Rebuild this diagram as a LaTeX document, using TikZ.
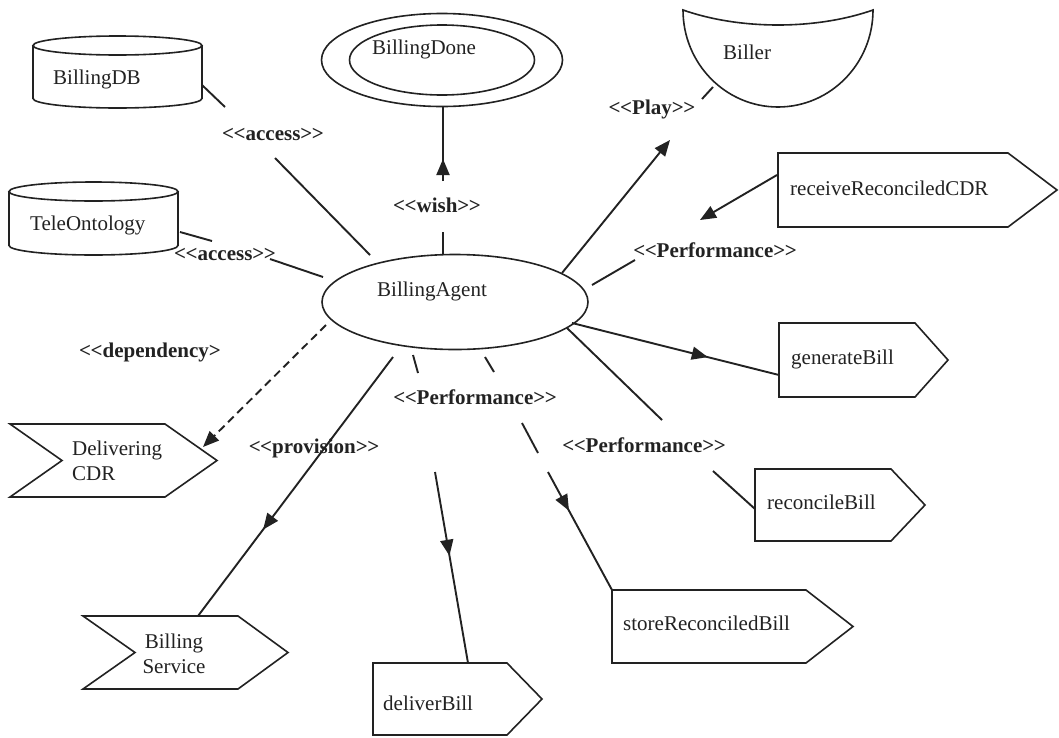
\documentclass[tikz,border=0pt]{standalone}
\usepackage{fontspec}
\setmainfont{Liberation Serif}
\usetikzlibrary{shapes.geometric, arrows.meta, decorations.markings}

\definecolor{ink}{RGB}{34,34,34}

% stereotype brackets, kept apart so no ligature forms
\newcommand\stereo[1]{<\kern-0.5pt<#1>\kern-0.5pt>}

% database drum: x1, y1 (top), x2, y2 (bottom), cap radius
\newcommand\drumshape[5]{%
  \draw[outline] (#1,#2+#5) -- (#1,#4-#5)
    arc[start angle=180, end angle=0, x radius={(#3-#1)/2}, y radius=#5]
    -- (#3,#2+#5);
  \draw[outline] ({(#1+#3)/2},#2+#5) ellipse[x radius={(#3-#1)/2}, y radius=#5];
}
% action box pointing right: x1, y1, x2 (end of flat part), y2, x of tip
\newcommand\pentshape[5]{%
  \draw[outline] (#1,#2) -- (#3,#2) -- (#5,{(#2+#4)/2}) -- (#3,#4) -- (#1,#4) -- cycle;
}
% event chevron: as above, plus x of the notch on the left
\newcommand\chevshape[6]{%
  \draw[outline] (#1,#2) -- (#3,#2) -- (#5,{(#2+#4)/2}) -- (#3,#4) -- (#1,#4)
    -- (#6,{(#2+#4)/2}) -- cycle;
}

\tikzset{
  outline/.style={draw=ink, line width=1.6pt, line join=miter},
  conn/.style={color=ink, line width=1.9pt},
  arrowend/.style={-{Triangle[length=16pt,width=13pt]}},
  midtip/.style={postaction={decorate, decoration={markings,
      mark=at position #1 with {\arrow{Triangle[length=16pt,width=13pt]}}}}},
  txt/.style={font=\fontsize{21}{25}\selectfont, text=ink, inner sep=0pt},
  stlab/.style={font=\bfseries\fontsize{21}{25}\selectfont, text=ink, inner sep=0pt, anchor=base},
}

\begin{document}
\begin{tikzpicture}[x=1pt, y=-1pt]
\useasboundingbox[fill=white] (0,0) rectangle (1059,737);

% ---------------- resources
\drumshape{33}{36}{202}{108}{9.5}
\node[txt, anchor=base west] (db) at (53,84) {BillingDB};
\drumshape{9}{182}{178}{255}{9.5}
\node[txt, anchor=base west] (onto) at (30,230) {TeleOntology};

% ---------------- agent
\node[outline, ellipse, minimum width=266, minimum height=95, inner sep=0pt] (agent) at (455,302) {};
\node[txt, anchor=base west] (agent-name) at (377,296) {BillingAgent};

% ---------------- goal
\node[outline, ellipse, minimum width=241, minimum height=93, inner sep=0pt] (done) at (442,60) {};
\node[outline, ellipse, minimum width=185, minimum height=70, inner sep=0pt] (done-in) at (442,60) {};
\node[txt, anchor=base west] (done-name) at (372,54) {BillingDone};

% ---------------- role
\draw[outline] (683,10) .. controls (740,30) and (816,30) .. (873,10)
  arc[start angle=0, end angle=180, x radius=95, y radius=97] -- cycle;
\node[txt, anchor=base west] (biller) at (723,59) {Biller};

% ---------------- actions
\pentshape{778}{153}{1008}{227}{1057}
\node[txt, anchor=base west] (rcv) at (790,195) {receiveReconciledCDR};
\pentshape{779}{323}{915}{397}{948}
\node[txt, anchor=base west] (gen) at (791,364) {generateBill};
\pentshape{755}{469}{891}{541}{925}
\node[txt, anchor=base west] (rec) at (767,509) {reconcileBill};
\pentshape{612}{590}{806}{663}{853}
\node[txt, anchor=base west] (store) at (623,630) {storeReconciledBill};
\pentshape{373}{663}{507}{735}{542}
\node[txt, anchor=base west] (deliver) at (383,710) {deliverBill};

% ---------------- events / services
\chevshape{10}{424}{165}{497}{217}{62}
\node[txt, anchor=north west, align=left] (dcdr) at (72,441) {Delivering\\CDR};
\chevshape{83}{616}{238}{689}{288}{135}
\node[txt, anchor=north, align=center] (bserv) at (174,634) {Billing\\Service};

% ---------------- connector end points and breaks
\coordinate (db-a)   at (202,85);  \coordinate (db-b)   at (225,107);
\coordinate (db-c)   at (275,158); \coordinate (ag-db)  at (370,255);
\coordinate (on-a)   at (180,232); \coordinate (on-b)   at (212,241);
\coordinate (on-c)   at (270,259); \coordinate (ag-on)  at (323,277);
\coordinate (ag-w)   at (443,255); \coordinate (w-b)    at (443,232);
\coordinate (w-c)    at (443,181); \coordinate (dn-w)   at (443,107);
\coordinate (ag-p)   at (562,273); \coordinate (p-b)    at (670,140);
\coordinate (p-c)    at (702,99);  \coordinate (bl-p)   at (713,87);
\coordinate (rc-a)   at (777,175); \coordinate (rc-b)   at (700,220);
\coordinate (rc-c)   at (635,260); \coordinate (ag-rc)  at (592,285);
\coordinate (ag-g)   at (572,323); \coordinate (gn-g)   at (779,375);
\coordinate (ag-r)   at (567,328); \coordinate (r-b)    at (662,420);
\coordinate (r-c)    at (713,471); \coordinate (rb-r)   at (755,509);
\coordinate (ag-s)   at (485,357); \coordinate (s-b)    at (494,372);
\coordinate (s-c)    at (522,423); \coordinate (s-d)    at (538,453);
\coordinate (s-e)    at (548,472); \coordinate (sb-s)   at (612,590);
\coordinate (ag-d)   at (413,355); \coordinate (d-b)    at (418,373);
\coordinate (d-c)    at (435,472); \coordinate (dl-d)   at (468,663);
\coordinate (ag-v)   at (393,357); \coordinate (bs-v)   at (198,616);
\coordinate (ag-k)   at (326,325); \coordinate (dc-k)   at (203,447);

% ---------------- connectors
\draw[conn] (db-a) -- (db-b);  \draw[conn] (db-c) -- (ag-db);
\draw[conn] (on-a) -- (on-b);  \draw[conn] (on-c) -- (ag-on);
\draw[conn] (ag-w) -- (w-b);   \draw[conn, midtip=22pt] (w-c) -- (dn-w);
\draw[conn, arrowend] (ag-p) -- (p-b);  \draw[conn] (p-c) -- (bl-p);
\draw[conn, arrowend] (rc-a) -- (rc-b); \draw[conn] (rc-c) -- (ag-rc);
\draw[conn, midtip=140pt] (ag-g) -- (gn-g);
\draw[conn] (ag-r) -- (r-b);   \draw[conn] (r-c) -- (rb-r);
\draw[conn] (ag-s) -- (s-b);   \draw[conn] (s-c) -- (s-d);
\draw[conn, midtip=44pt] (s-e) -- (sb-s);
\draw[conn] (ag-d) -- (d-b);   \draw[conn, midtip=85pt] (d-c) -- (dl-d);
\draw[conn, midtip=216pt] (ag-v) -- (bs-v);
\draw[conn, arrowend, dash pattern=on 8pt off 5pt] (ag-k) -- (dc-k);

% ---------------- stereotype labels
\node[stlab] (l-db)    at (273,140) {\stereo{access}};
\node[stlab] (l-on)    at (225,260) {\stereo{access}};
\node[stlab] (l-wish)  at (437,212) {\stereo{wish}};
\node[stlab] (l-play)  at (652,114) {\stereo{Play}};
\node[stlab] (l-rc)    at (715,257) {\stereo{Performance}};
\node[stlab] (l-sd)    at (475,404) {\stereo{Performance}};
\node[stlab] (l-rb)    at (644,452) {\stereo{Performance}};
\node[stlab] (l-prov)  at (314,453) {\stereo{provision}};
\node[stlab] (l-dep)   at (150,357) {<\kern-0.5pt<dependency>};
\end{tikzpicture}
\end{document}
